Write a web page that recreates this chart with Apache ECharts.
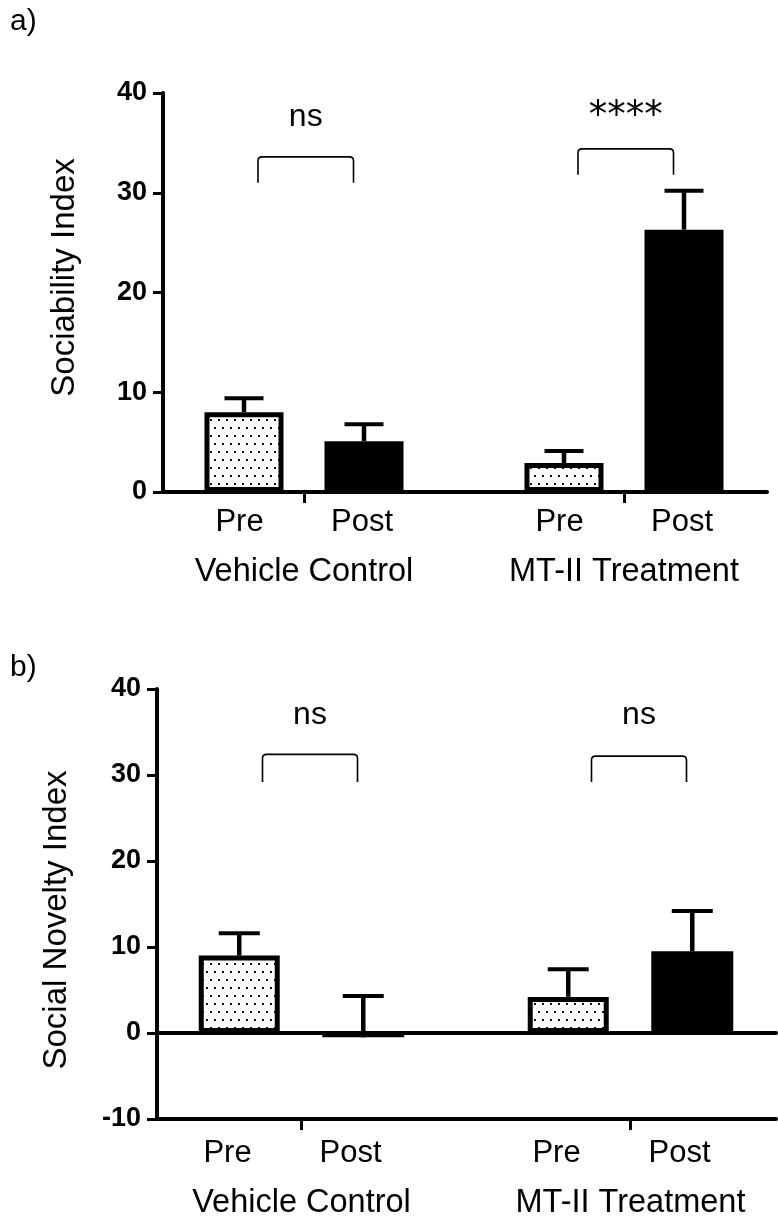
<!DOCTYPE html>
<html><head><meta charset="utf-8">
<script src="https://cdn.jsdelivr.net/npm/echarts@6/dist/echarts.min.js"></script>
<style>html,body{margin:0;padding:0;background:#fff}#chart{width:778px;height:1217px}</style>
</head><body><div id="chart"></div>
<script>
// ---- data ----
const groups = ['Vehicle Control', 'MT-II Treatment'];
const phases = ['Pre', 'Post'];
const sociabilityPre = [8.0, 2.9];
const sociabilityPreSem = [1.4, 1.2];
const sociabilityPost = [5.1, 26.3];
const sociabilityPostSem = [1.7, 3.9];
const noveltyPre = [9.0, 4.2];
const noveltyPreSem = [2.6, 3.2];
const noveltyPost = [-0.5, 9.5];
const noveltyPostSem = [4.8, 4.7];
const sociabilityTicks = [0, 10, 20, 30, 40];
const noveltyTicks = [-10, 0, 10, 20, 30, 40];
const sociabilitySig = ['ns', '****'];
const noveltySig = ['ns', 'ns'];

// ---- layout / style ----
const FONT = '"Liberation Sans", Arial, Helvetica, sans-serif';
const panels = [
  {
    title: 'a)', titleTop: 2, yName: 'Sociability Index', ticks: sociabilityTicks,
    pre: sociabilityPre, preSem: sociabilityPreSem, post: sociabilityPost, postSem: sociabilityPostSem, sig: sociabilitySig,
    frame: {left: 163, top: 93, width: 604, height: 399},
    bars: {left: 144, top: 93, width: 640, height: 399},
    wPre: 79, wPost: 79, gap: 0.519, capHalf: 19.5,
    labelW: [116, 129], labelMargin: 5,
    bracketL: -46, bracketR: 49.5, bracketH: [[33.6, 31.0], [34.4, 31.8]], sigY: 37.6,
    namePad: [0, 0, 0, 30], nameGap: 82
  },
  {
    title: 'b)', titleTop: 648, yName: 'Social Novelty Index', ticks: noveltyTicks,
    pre: noveltyPre, preSem: noveltyPreSem, post: noveltyPost, postSem: noveltyPostSem, sig: noveltySig,
    frame: {left: 157, top: 689, width: 619, height: 430},
    bars: {left: 137, top: 689, width: 658, height: 430},
    wPre: 81, wPost: 82, gap: 0.525, capHalf: 20.5,
    labelW: [98, 148], labelMargin: 9,
    bracketL: -39, bracketR: 56, bracketH: [[32.4, 29.2], [32.2, 29.2]], sigY: 36.9,
    namePad: [0, 32, 0, 0], nameGap: 84
  }
];

function dotPattern() {
  const c = document.createElement('canvas');
  c.width = 8; c.height = 16;
  const ctx = c.getContext('2d');
  ctx.fillStyle = '#fff'; ctx.fillRect(0, 0, 8, 16);
  ctx.fillStyle = '#111';
  ctx.fillRect(2, 3, 2, 2);
  ctx.fillRect(6, 11, 2, 2);
  return c;
}
const pattern = {image: dotPattern(), repeat: 'repeat'};

const grid = [], xAxis = [], yAxis = [], series = [], title = [];

panels.forEach((p, pi) => {
  const gFrame = grid.length;
  grid.push(Object.assign({outerBoundsMode: 'none', containLabel: false}, p.frame));
  const gBars = grid.length;
  grid.push(Object.assign({outerBoundsMode: 'none', containLabel: false}, p.bars));
  const yMin = p.ticks[0], yMax = p.ticks[p.ticks.length - 1], yInt = p.ticks[1] - p.ticks[0];

  title.push({text: p.title, left: 5, top: p.titleTop, textStyle: {fontFamily: FONT, fontSize: 30, fontWeight: 'normal', color: '#000'}});

  // frame axes
  xAxis.push({gridIndex: gFrame, type: 'value', min: 0, max: 1, position: 'bottom',
    axisLine: {show: true, onZero: false, lineStyle: {color: '#000', width: 4}},
    axisTick: {show: false}, axisLabel: {show: false}, splitLine: {show: false}});
  if (yMin < 0) {
    xAxis.push({gridIndex: gFrame, type: 'value', min: 0, max: 1, position: 'top',
      axisLine: {show: true, onZero: true, lineStyle: {color: '#000', width: 4}},
      axisTick: {show: false}, axisLabel: {show: false}, splitLine: {show: false}});
  }
  yAxis.push({gridIndex: gFrame, type: 'value', min: yMin, max: yMax, interval: yInt,
    name: p.yName, nameLocation: 'middle', nameGap: p.nameGap, nameRotate: 90,
    nameTextStyle: {fontFamily: FONT, fontSize: 33, color: '#000', padding: p.namePad},
    axisLine: {show: true, onZero: false, lineStyle: {color: '#000', width: 4}},
    axisTick: {show: true, length: 10, lineStyle: {color: '#000', width: 3}},
    axisLabel: {fontFamily: FONT, fontSize: 27, fontWeight: 'bold', color: '#000', margin: 16},
    splitLine: {show: false}});

  // bar axes
  const xBars = xAxis.length;
  const [w1, w2] = p.labelW;
  xAxis.push({gridIndex: gBars, type: 'category', data: groups, position: 'bottom',
    axisLine: {show: false, onZero: false},
    axisTick: {show: true, alignWithLabel: true, length: 11, lineStyle: {color: '#000', width: 3}},
    axisLabel: {margin: p.labelMargin, interval: 0,
      formatter: (v) => '{p|' + phases[0] + '}{q|' + phases[1] + '}\n{g|' + v + '}',
      rich: {
        p: {width: w1, align: 'center', fontFamily: FONT, fontSize: 31, color: '#000', lineHeight: 50},
        q: {width: w2, align: 'center', fontFamily: FONT, fontSize: 31, color: '#000', lineHeight: 50},
        g: {fontFamily: FONT, fontSize: 32.5, color: '#000', lineHeight: 50}
      }},
    splitLine: {show: false}});
  const yBars = yAxis.length;
  yAxis.push({gridIndex: gBars, type: 'value', min: yMin, max: yMax, interval: yInt, show: false});

  const offPre = -(p.wPre * p.gap + p.wPost) / 2;
  const offPost = p.wPre * (1 + p.gap) / 2;

  series.push({type: 'bar', name: phases[0], xAxisIndex: xBars, yAxisIndex: yBars, data: p.pre,
    barWidth: p.wPre, barGap: (p.gap * 100) + '%',
    itemStyle: {color: pattern, borderColor: '#000', borderWidth: 5}, z: 2});
  series.push({type: 'bar', name: phases[1], xAxisIndex: xBars, yAxisIndex: yBars, data: p.post,
    barWidth: p.wPost, barGap: (p.gap * 100) + '%',
    itemStyle: {color: '#000', borderWidth: 0}, z: 2});

  const errSeries = (means, sems, off) => ({
    type: 'custom', xAxisIndex: xBars, yAxisIndex: yBars, z: 3, clip: false,
    data: means.map((m, i) => [i, m, sems[i]]),
    encode: {x: 0, y: 1},
    renderItem: (params, api) => {
      const g = api.value(0), m = api.value(1), s = api.value(2);
      const base = api.coord([g, m]);
      const tip = api.coord([g, m + s]);
      const x = base[0] + off;
      return {type: 'group', children: [
        {type: 'line', shape: {x1: x, y1: base[1], x2: x, y2: tip[1]}, style: {stroke: '#000', lineWidth: 4.5}},
        {type: 'line', shape: {x1: x - p.capHalf, y1: tip[1], x2: x + p.capHalf, y2: tip[1]}, style: {stroke: '#000', lineWidth: 4}}
      ]};
    }
  });
  series.push(errSeries(p.pre, p.preSem, offPre));
  series.push(errSeries(p.post, p.postSem, offPost));

  // significance brackets
  series.push({type: 'custom', xAxisIndex: xBars, yAxisIndex: yBars, z: 4, clip: false,
    data: p.sig.map((s, i) => [i, p.bracketH[i][0], p.bracketH[i][1], p.sigY]),
    encode: {x: 0, y: 1},
    renderItem: (params, api) => {
      const g = api.value(0);
      const top = api.coord([g, api.value(1)]);
      const end = api.coord([g, api.value(2)]);
      const txt = api.coord([g, api.value(3)]);
      const x1 = top[0] + p.bracketL, x2 = top[0] + p.bracketR;
      const yt = top[1], yb = end[1], r = 4;
      const star = p.sig[g] !== 'ns';
      return {type: 'group', children: [
        {type: 'path', shape: {pathData: `M${x1} ${yb} L${x1} ${yt + r} Q${x1} ${yt} ${x1 + r} ${yt} L${x2 - r} ${yt} Q${x2} ${yt} ${x2} ${yt + r} L${x2} ${yb}`},
          style: {stroke: '#000', fill: 'none', lineWidth: 1.6}},
        {type: 'text', x: (x1 + x2) / 2, y: txt[1],
          style: {text: p.sig[g], fill: '#000', align: 'center', verticalAlign: 'middle',
            fontFamily: star ? '"DejaVu Sans", sans-serif' : FONT, fontSize: star ? 37 : 32}}
      ]};
    }
  });
});

const chart = echarts.init(document.getElementById('chart'), null, {renderer: 'canvas'});
chart.setOption({animation: false, backgroundColor: '#fff', title, grid, xAxis, yAxis, series});
</script></body></html>
